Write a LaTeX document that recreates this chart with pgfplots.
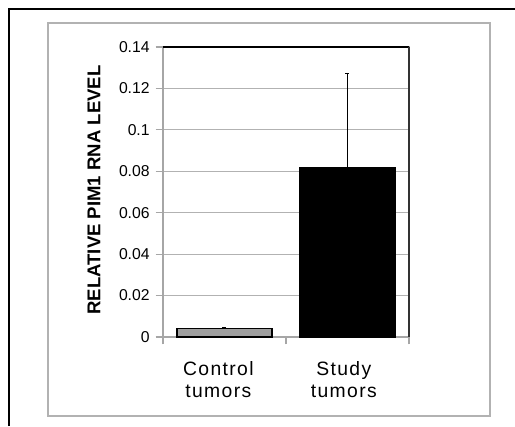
\documentclass[border=0pt]{standalone}
\usepackage{pgfplots}
\pgfplotsset{compat=1.18}
\usepackage{fontspec}
\setmainfont{Liberation Sans}
\newfontfamily\widefont[LetterSpace=7]{Liberation Sans}
\begin{document}
\begin{tikzpicture}
\path[use as bounding box] (0,0) rectangle (386.25pt,319.5pt);
% outer frame
\draw[black, line width=1.5pt] (7.1pt,0pt) -- (7.1pt,312.4pt) -- (386.25pt,312.4pt);
% inner gray frame
\draw[gray!60, line width=1.2pt] (36pt,7.5pt) rectangle (367.5pt,302.25pt);
\begin{axis}[
  at={(122.25pt,66.75pt)}, anchor=south west,
  width=184.5pt, height=217.5pt, scale only axis,
  clip=false,
  xmin=-0.5, xmax=1.5, ymin=0, ymax=0.14,
  xtick={-0.5,0.5,1.5}, xticklabels={},
  xtick pos=bottom, ytick pos=left,
  ytick={0,0.02,0.04,0.06,0.08,0.1,0.12,0.14},
  tick align=outside,
  major tick length=5.5pt,
  tick style={gray!70, line width=0.9pt},
  axis line style={gray!70, line width=0.9pt},
  ymajorgrids, grid style={gray!60, line width=0.9pt},
  yticklabel style={/pgf/number format/fixed, /pgf/number format/precision=2,
     font=\fontsize{11.8pt}{13pt}\selectfont, xshift=-1pt},
  /pgf/number format/assume math mode=true,
]
\addplot[ybar, bar width=71.25pt, bar shift=0pt, fill=gray!75, draw=black, line width=0.9pt,
  error bars/.cd, y dir=plus, y explicit,
  error bar style={black, line width=0.8pt},
  error mark options={rotate=90, mark size=1.5pt, black}]
  coordinates {(0,0.004) +- (0,0.0008)};
\addplot[ybar, bar width=71.25pt, bar shift=0pt, fill=black, draw=black, line width=0.9pt,
  error bars/.cd, y dir=plus, y explicit,
  error bar style={black, line width=0.8pt},
  error mark options={rotate=90, mark size=1.5pt, black}]
  coordinates {(1,0.0816) +- (0,0.0459)};
\draw[black, line width=0.9pt] (rel axis cs:0,1) -- (rel axis cs:1,1);
\draw[gray!40!black, line width=0.9pt] (rel axis cs:1,0) -- (rel axis cs:1,1);
\node[align=center, anchor=north, font=\widefont\fontsize{14.5pt}{16.5pt}\selectfont, inner sep=0pt]
  at ([yshift=-18pt]axis cs:-0.05,0) {Control\\tumors};
\node[align=center, anchor=north, font=\widefont\fontsize{14.5pt}{16.5pt}\selectfont, inner sep=0pt]
  at ([yshift=-18pt]axis cs:0.97,0) {Study\\tumors};
\end{axis}
\node[rotate=90, font=\bfseries\fontsize{13.9pt}{16pt}\selectfont] at (70.5pt,177pt) {RELATIVE PIM1 RNA LEVEL};
\end{tikzpicture}
\end{document}
